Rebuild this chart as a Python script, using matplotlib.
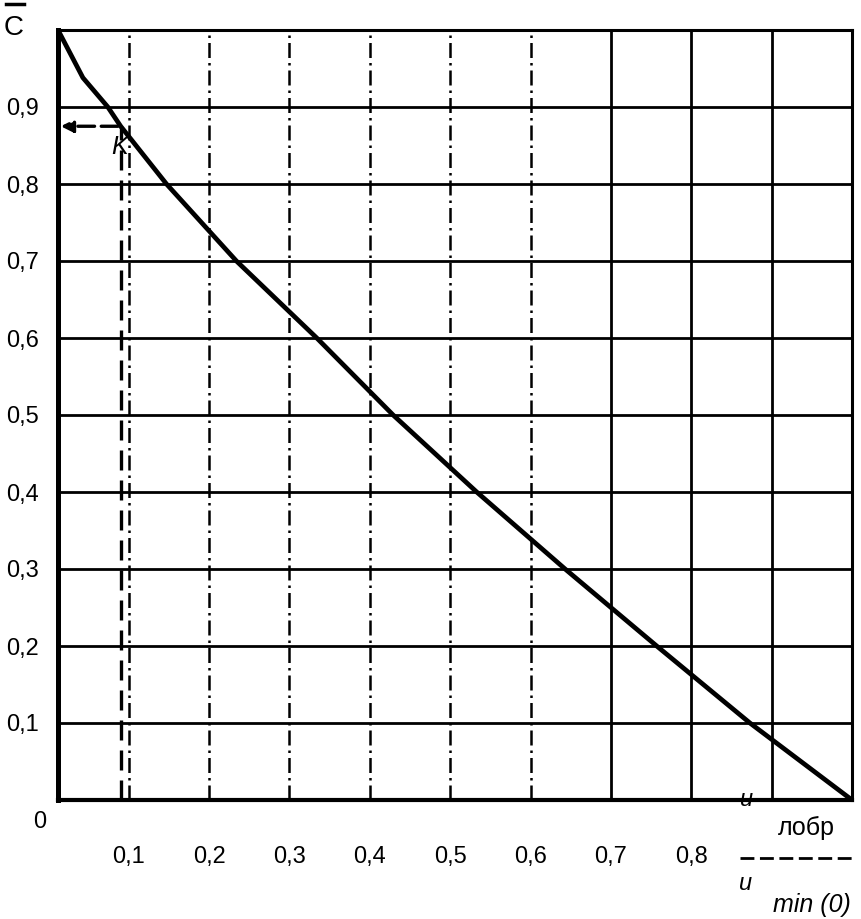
import matplotlib
matplotlib.use("Agg")
import matplotlib.pyplot as plt
from matplotlib.lines import Line2D

# curve C vs U_лобр / U_min(0)
ratio = [0.012, 0.043, 0.074, 0.09, 0.147, 0.234, 0.334, 0.429, 0.533, 0.643, 0.757, 0.873, 1.0]
c_val = [1.0, 0.938, 0.9, 0.875, 0.8, 0.7, 0.6, 0.5, 0.4, 0.3, 0.2, 0.1, 0.0]

# marked working point K
k_x = 0.09
k_y = 0.875

x_ticks = [0.1, 0.2, 0.3, 0.4, 0.5, 0.6, 0.7, 0.8]
x_labels = ["0,1", "0,2", "0,3", "0,4", "0,5", "0,6", "0,7", "0,8"]
y_ticks = [0.1, 0.2, 0.3, 0.4, 0.5, 0.6, 0.7, 0.8, 0.9]
y_labels = ["0,1", "0,2", "0,3", "0,4", "0,5", "0,6", "0,7", "0,8", "0,9"]

plt.rcParams["font.family"] = ["Liberation Sans", "DejaVu Sans"]

W, H = 861, 919
fig = plt.figure(figsize=(W / 100, H / 100), dpi=100)
ax = fig.add_axes([58 / W, 1 - 800 / H, 794 / W, 770 / H])


def px(x, y):
    return x / W, 1 - y / H


# grid
for yv in y_ticks:
    ax.axhline(yv, color="black", lw=2.0, zorder=1)
for xv in x_ticks + [0.9]:
    if xv <= 0.6:
        ax.axvline(xv, color="black", lw=1.8, ls=(0, (6, 2, 1, 2)), zorder=1)
    else:
        ax.axvline(xv, color="black", lw=2.0, zorder=1)

# curve
ax.plot(ratio, c_val, color="black", lw=3.4, zorder=3, solid_capstyle="butt")

# marker lines to axes
ax.plot([k_x, k_x], [0, k_y], color="black", lw=2.4, ls=(0, (6, 3)), zorder=2)
ax.annotate("", xy=(0.012, k_y), xytext=(k_x, k_y),
            arrowprops=dict(arrowstyle="-|>", color="black", lw=2.4,
                            linestyle=(0, (5, 2)), mutation_scale=18))
ax.text(k_x - 0.012, k_y - 0.012, "K", fontsize=18, fontstyle="italic",
        ha="left", va="top", zorder=4)

ax.set_xlim(0.012, 1.0)
ax.set_ylim(0, 1.0)

ax.set_xticks(x_ticks)
ax.set_xticklabels(x_labels, fontsize=17)
ax.set_yticks(y_ticks)
ax.set_yticklabels(y_labels, fontsize=17)
ax.tick_params(axis="x", length=0, pad=33)
ax.tick_params(axis="y", length=0, pad=14)

ax.spines["left"].set_linewidth(3.6)
ax.spines["bottom"].set_linewidth(3.0)
ax.spines["top"].set_linewidth(2.2)
ax.spines["right"].set_linewidth(2.2)

# origin label and axis titles
fig.text(*px(40, 822), "0", fontsize=17, ha="center", va="center")

fig.text(*px(14, 28), "C", fontsize=20, ha="center", va="center")
fig.add_artist(Line2D([6 / W, 24 / W], [1 - 4 / H, 1 - 4 / H], color="black", lw=2.5))

fig.text(*px(747, 800), "u", fontsize=17, fontstyle="italic", ha="center", va="center")
fig.text(*px(806, 828), "лобр", fontsize=18, ha="center", va="center")
fig.add_artist(Line2D([740 / W, 855 / W], [1 - 858 / H, 1 - 858 / H],
                      color="black", lw=2, ls=(0, (5, 2))))
fig.text(*px(746, 884), "u", fontsize=17, fontstyle="italic", ha="center", va="center")
fig.text(*px(812, 905), "min (0)", fontsize=18, fontstyle="italic", ha="center", va="center")

fig.savefig("out.png", dpi=100)
